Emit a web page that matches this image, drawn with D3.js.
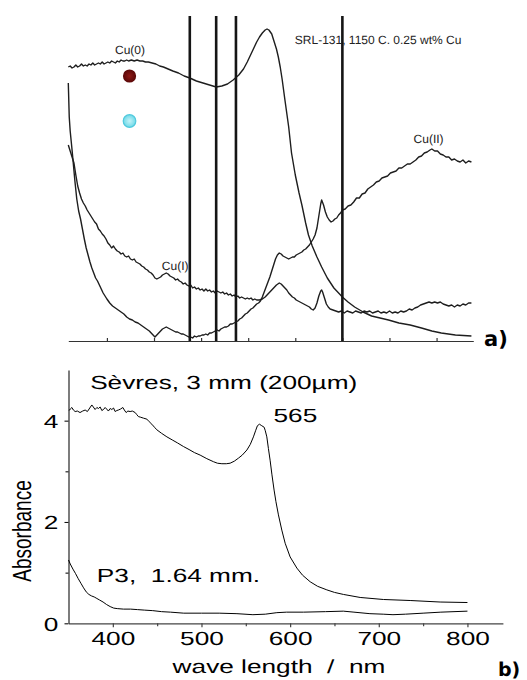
<!DOCTYPE html>
<html>
<head>
<meta charset="utf-8">
<script src="https://cdn.jsdelivr.net/npm/d3@7"></script>
<style>
  body { margin: 0; background: #fff; }
  svg { display: block; }
  text { text-rendering: geometricPrecision; }
</style>
</head>
<body>
<div id="chart"></div>
<script>
// ---- panel a) scanned spectra: wavelength (nm) vs absorbance (arb. units)
let cu0Spectrum = [[359,2.74],[361,2.75],[363,2.73],[365,2.74],[367,2.76],[369,2.74],[371,2.75],[373,2.77],[375,2.75],[377,2.76],
    [379,2.75],[381,2.77],[383,2.76],[385,2.78],[387,2.76],[389,2.77],[391,2.78],[393,2.77],[395,2.79],[397,2.77],[399,2.78],
    [401,2.79],[403,2.78],[405,2.80],[407,2.79],[409,2.78],[411,2.80],[413,2.79],[415,2.81],[417,2.80],[419,2.80],[421,2.81],
    [423,2.80],[426,2.81],[429,2.80],[432,2.81],[435,2.80],[438,2.80],[441,2.79],[444,2.79],[448,2.78],[452,2.77],[456,2.75],
    [460,2.74],[465,2.72],[470,2.70],[476,2.68],[482,2.65],[488,2.63],[495,2.60],[502,2.58],[509,2.56],[516,2.54],[522,2.55],
    [528,2.57],[534,2.61],[540,2.66],[545,2.72],[549,2.79],[554,2.89],[559,2.99],[562,3.04],[565,3.08],[568,3.11],[570,3.12],
    [572,3.11],[575,3.07],[577,3.01],[580,2.92],[582,2.84],[584,2.74],[586,2.62],[589,2.41],[593,2.14],[596,1.88],[600,1.66],
    [604,1.48],[607,1.36],[611,1.18],[614,1.06],[618,0.95],[623,0.84],[628,0.74],[634,0.63],[641,0.53],[650,0.44],[656,0.39],
    [663,0.34],[672,0.29],[681,0.25],[690,0.23],[699,0.21],[710,0.18],[722,0.16],[734,0.13],[745,0.10],[755,0.08],[770,0.06],
    [787,0.05]];

let cu1Spectrum = [[359,1.96],[361,1.90],[363,1.84],[365,1.78],[367,1.66],[369,1.55],[371,1.48],[373,1.42],[375,1.38],[377,1.35],
    [379,1.31],[381,1.28],[383,1.25],[385,1.22],[387,1.19],[389,1.17],[391,1.12],[393,1.10],[395,1.07],[397,1.05],[399,1.02],
    [401,0.98],[403,0.96],[405,0.93],[407,0.95],[409,0.92],[411,0.90],[413,0.89],[415,0.87],[417,0.88],[419,0.85],[421,0.84],
    [423,0.85],[425,0.82],[427,0.81],[429,0.82],[431,0.79],[433,0.78],[435,0.77],[437,0.75],[439,0.74],[441,0.72],[443,0.71],
    [445,0.69],[447,0.68],[449,0.66],[451,0.63],[453,0.62],[455,0.63],[457,0.64],[459,0.66],[461,0.67],[463,0.68],[465,0.67],
    [467,0.65],[469,0.64],[471,0.63],[473,0.61],[475,0.62],[477,0.60],[479,0.59],[481,0.57],[483,0.58],[485,0.56],[487,0.55],
    [489,0.56],[491,0.53],[493,0.54],[495,0.52],[497,0.53],[499,0.51],[501,0.52],[503,0.50],[505,0.52],[507,0.50],[509,0.51],
    [511,0.49],[513,0.50],[515,0.48],[517,0.50],[519,0.49],[521,0.48],[523,0.49],[525,0.47],[527,0.48],[529,0.46],[531,0.47],
    [533,0.45],[535,0.46],[537,0.44],[539,0.45],[541,0.43],[543,0.44],[545,0.43],[547,0.42],[549,0.43],[551,0.42],[553,0.43],
    [555,0.41],[557,0.42],[559,0.41],[562,0.41],[565,0.42],[568,0.44],[571,0.47],[574,0.50],[577,0.53],[580,0.56],[583,0.58],
    [585,0.57],[587,0.55],[589,0.53],[591,0.51],[593,0.48],[595,0.46],[597,0.44],[599,0.43],[601,0.41],[603,0.40],[605,0.39],
    [607,0.38],[609,0.37],[611,0.36],[613,0.35],[615,0.34],[617,0.32],[619,0.31],[621,0.33],[623,0.38],[625,0.45],[627,0.50],
    [628,0.51],[629,0.49],[631,0.43],[633,0.37],[635,0.34],[637,0.32],[640,0.31],[643,0.30],[646,0.29],[649,0.30],[652,0.28],
    [655,0.30],[658,0.29],[661,0.28],[664,0.30],[667,0.29],[670,0.28],[673,0.30],[676,0.29],[679,0.30],[682,0.28],[685,0.29],
    [688,0.30],[691,0.28],[694,0.29],[697,0.28],[700,0.30],[703,0.28],[706,0.29],[709,0.28],[712,0.30],[715,0.29],[718,0.30],
    [721,0.32],[724,0.31],[727,0.33],[730,0.34],[733,0.36],[736,0.37],[739,0.38],[742,0.39],[745,0.38],[748,0.39],[751,0.38],
    [754,0.39],[757,0.37],[760,0.36],[763,0.35],[766,0.36],[769,0.34],[772,0.36],[775,0.35],[778,0.37],[781,0.36],[784,0.38],
    [787,0.38]];

let cu2Spectrum = [[359,2.58],[360,2.24],[361,2.10],[363,1.91],[366,1.60],[368,1.42],[370,1.30],[372,1.22],[374,1.12],[376,1.02],
    [378,0.93],[380,0.86],[382,0.79],[384,0.73],[386,0.68],[388,0.63],[390,0.60],[392,0.56],[394,0.52],[396,0.48],[398,0.45],
    [400,0.42],[403,0.38],[406,0.35],[409,0.33],[412,0.31],[415,0.29],[418,0.27],[421,0.24],[424,0.22],[427,0.21],[430,0.19],
    [433,0.18],[436,0.16],[439,0.14],[442,0.12],[445,0.10],[448,0.07],[451,0.04],[453,0.06],[455,0.08],[457,0.10],[459,0.12],
    [461,0.13],[463,0.14],[465,0.13],[467,0.12],[469,0.11],[471,0.10],[473,0.09],[475,0.09],[477,0.08],[479,0.07],[481,0.07],
    [483,0.06],[485,0.05],[487,0.04],[489,0.04],[491,0.03],[493,0.05],[495,0.04],[497,0.05],[499,0.05],[501,0.06],[503,0.06],
    [505,0.07],[507,0.06],[509,0.08],[511,0.08],[513,0.09],[515,0.10],[517,0.11],[519,0.10],[521,0.12],[523,0.13],[525,0.14],
    [527,0.14],[529,0.15],[531,0.17],[533,0.17],[535,0.18],[537,0.19],[539,0.20],[541,0.22],[543,0.23],[545,0.25],[547,0.27],
    [549,0.28],[551,0.30],[553,0.32],[555,0.33],[557,0.35],[559,0.37],[561,0.38],[563,0.40],[565,0.44],[567,0.49],[569,0.54],
    [571,0.59],[573,0.64],[575,0.70],[577,0.76],[579,0.82],[581,0.86],[583,0.88],[585,0.87],[587,0.85],[589,0.84],[591,0.83],
    [593,0.82],[595,0.83],[597,0.84],[599,0.84],[601,0.86],[603,0.87],[605,0.88],[607,0.89],[609,0.91],[611,0.92],[613,0.94],
    [615,0.96],[617,0.99],[619,1.02],[621,1.06],[623,1.13],[625,1.25],[627,1.37],[628,1.41],[630,1.36],[632,1.29],[634,1.24],
    [636,1.21],[638,1.19],[640,1.20],[642,1.22],[644,1.23],[646,1.26],[648,1.28],[650,1.31],[653,1.32],[656,1.35],[659,1.36],
    [662,1.39],[665,1.43],[668,1.43],[671,1.47],[674,1.48],[677,1.52],[680,1.54],[683,1.56],[686,1.59],[689,1.60],[692,1.63],
    [695,1.64],[698,1.65],[701,1.68],[704,1.69],[707,1.70],[710,1.73],[713,1.73],[716,1.75],[719,1.77],[722,1.77],[725,1.79],
    [728,1.81],[731,1.84],[734,1.85],[737,1.88],[740,1.89],[743,1.91],[745,1.92],[748,1.90],[751,1.90],[754,1.87],[757,1.86],
    [760,1.84],[763,1.84],[766,1.81],[769,1.82],[772,1.80],[775,1.79],[778,1.81],[781,1.78],[784,1.80],[787,1.79]];

let laserLines = [488, 516, 537, 650];
let topTicks = [400, 450, 500, 550, 600, 650, 700, 750];

// ---- panel b) absorbance vs wave length
let sevresSpectrum = [[350.7,4.20],[352,4.23],[353.8,4.26],[355.5,4.21],[357.5,4.18],[360,4.19],[363,4.16],[366,4.19],
    [368.8,4.21],[371.3,4.18],[374,4.25],[376.3,4.31],[378,4.27],[380,4.22],[382,4.26],[383.8,4.24],[385.7,4.27],[387.6,4.20],
    [389.5,4.22],[391.3,4.26],[393,4.23],[395,4.19],[397,4.24],[398.9,4.22],[400.8,4.25],[402.6,4.18],[404.5,4.20],[406.3,4.21],
    [408.8,4.23],[411.3,4.26],[413,4.21],[415,4.16],[417,4.19],[419.5,4.18],[422,4.19],[425.2,4.16],[427,4.12],[428.9,4.08],
    [431,4.07],[434.5,4.05],[438.4,4.03],[441,3.98],[444,3.93],[447,3.87],[449.6,3.82],[455,3.75],[461,3.68],[467,3.62],
    [473,3.56],[479.6,3.49],[486,3.43],[492,3.37],[498.5,3.32],[506,3.25],[513.5,3.19],[518,3.16],[523,3.15],[528,3.15],
    [532.3,3.16],[537,3.20],[541.7,3.26],[546,3.32],[551.2,3.42],[555,3.53],[558.6,3.68],[561,3.80],[563.1,3.90],[565.4,3.93],
    [568,3.90],[570.7,3.87],[572,3.80],[573.7,3.68],[575.5,3.45],[577.4,3.22],[579.5,2.93],[581.9,2.63],[584,2.40],[586.8,2.14],
    [590.6,1.84],[594.4,1.58],[600,1.31],[607.6,1.09],[614,0.95],[622.6,0.82],[631,0.73],[641.4,0.66],[650,0.61],[660.1,0.57],
    [679,0.51],[705.2,0.47],[735.4,0.45],[769.2,0.42],[800,0.41]];

let p3Spectrum = [[350,1.25],[352,1.17],[355,1.07],[358,0.98],[361,0.88],[364,0.79],[367,0.70],[370,0.62],[373,0.57],
    [376,0.54],[379,0.52],[382,0.49],[385,0.46],[389,0.42],[393,0.37],[397,0.33],[401,0.30],[405,0.29],[412,0.28],[420,0.28],
    [428,0.27],[436,0.26],[445,0.25],[455,0.23],[465,0.22],[480,0.20],[500,0.20],[520,0.20],[540,0.19],[558,0.17],[572,0.18],
    [585,0.21],[596,0.22],[615,0.22],[640,0.23],[660,0.24],[672,0.22],[690,0.19],[705,0.18],[716,0.17],[730,0.18],[750,0.20],
    [770,0.22],[800,0.24]];

let bottomMajorX = [400, 500, 600, 700, 800];
let bottomMinorX = [450, 550, 650, 750];
let bottomMajorY = [0, 2, 4];
let bottomMinorY = [1, 3];

let width = 527, height = 680;
let sans = "'Liberation Sans', Arial, sans-serif";
let stretch = 1.38;   // the lower figure is printed horizontally stretched

let svg = d3.select('#chart').append('svg')
    .attr('width', width)
    .attr('height', height);

drawTopPanel();
drawBottomPanel();

function drawTopPanel() {
    let x = d3.scaleLinear().domain([359, 789]).range([68.3, 473.3]);
    let y = d3.scaleLinear().domain([0, 3.24]).range([341, 17]);
    let g = svg.append('g').attr('class', 'panel-a');

    let defs = svg.append('defs');
    let red = defs.append('radialGradient').attr('id', 'redDot');
    red.append('stop').attr('offset', '0%').attr('stop-color', '#8e1a16');
    red.append('stop').attr('offset', '100%').attr('stop-color', '#5a0707');
    let cyan = defs.append('radialGradient').attr('id', 'cyanDot');
    cyan.append('stop').attr('offset', '0%').attr('stop-color', '#c4f3f8');
    cyan.append('stop').attr('offset', '100%').attr('stop-color', '#6fd9e8');

    // baseline with small upward ticks
    let axis = d3.axisTop(x).tickValues(topTicks).tickSize(3).tickSizeOuter(0).tickFormat('');
    g.append('g')
        .attr('transform', 'translate(0,' + y(0) + ')')
        .call(axis)
        .call(a => a.selectAll('path, line').attr('stroke', '#333').attr('stroke-width', 1.2));

    let line = d3.line()
        .x(d => x(d[0]))
        .y(d => y(d[1]));

    g.selectAll('path.spectrum')
        .data([cu0Spectrum, cu1Spectrum, cu2Spectrum])
        .enter()
        .append('path')
            .attr('class', 'spectrum')
            .attr('d', line)
            .attr('fill', 'none')
            .attr('stroke', '#1e1e1e')
            .attr('stroke-width', 1.4)
            .attr('stroke-linejoin', 'round');

    g.selectAll('line.laser')
        .data(laserLines)
        .enter()
        .append('line')
            .attr('class', 'laser')
            .attr('x1', d => x(d)).attr('x2', d => x(d))
            .attr('y1', 16).attr('y2', y(0))
            .attr('stroke', '#151515')
            .attr('stroke-width', 2.6);

    g.append('circle')
        .attr('cx', x(424)).attr('cy', y(2.65)).attr('r', 6.6)
        .attr('fill', 'url(#redDot)');
    g.append('circle')
        .attr('cx', x(424)).attr('cy', y(2.20)).attr('r', 6.3)
        .attr('fill', 'url(#cyanDot)')
        .attr('stroke', '#4fc9dd')
        .attr('stroke-width', 1.2);

    let labels = [
        {text: 'Cu(0)', wl: 424.5, v: 2.87, anchor: 'middle'},
        {text: 'Cu(I)', wl: 472.5, v: 0.71, anchor: 'middle'},
        {text: 'Cu(II)', wl: 741.5, v: 1.98, anchor: 'middle'},
        {text: 'SRL-131, 1150 C. 0.25 wt% Cu', wl: 599.5, v: 2.97, anchor: 'start'}
    ];
    g.selectAll('text.label')
        .data(labels)
        .enter()
        .append('text')
            .attr('class', 'label')
            .attr('x', d => x(d.wl))
            .attr('y', d => y(d.v))
            .attr('text-anchor', d => d.anchor)
            .style('font-family', sans)
            .style('font-size', '12px')
            .style('fill', '#222')
            .text(d => d.text);

    svg.append('text')
        .attr('x', 484).attr('y', 346)
        .style('font-family', "'DejaVu Sans', sans-serif")
        .style('font-weight', 'bold')
        .style('font-size', '21px')
        .text('a)');
}

function drawBottomPanel() {
    let x = d3.scaleLinear().domain([350, 840]).range([68.5, 502.9]);
    let y = d3.scaleLinear().domain([0, 5]).range([623.3, 370]);
    let g = svg.append('g').attr('class', 'panel-b');

    // x axis: major + minor ticks
    let xAxisG = g.append('g').attr('transform', 'translate(0,' + y(0) + ')');
    xAxisG.call(d3.axisBottom(x).tickValues(bottomMinorX).tickSize(3).tickSizeOuter(0).tickFormat(''));
    xAxisG.append('g').call(d3.axisBottom(x).tickValues(bottomMajorX).tickSize(4).tickSizeOuter(0).tickFormat(d3.format('d')))
        .call(a => a.select('.domain').remove());
    xAxisG.selectAll('path, line').attr('stroke', '#444').attr('stroke-width', 1.2);
    xAxisG.selectAll('text')
        .attr('y', 8)
        .attr('dy', '0.71em')
        .attr('transform', 'scale(' + stretch + ',1)')
        .style('font-family', sans)
        .style('font-size', '19px')
        .style('fill', '#000');

    // y axis
    let yAxisG = g.append('g').attr('transform', 'translate(' + x(350) + ',0)');
    yAxisG.call(d3.axisLeft(y).tickValues(bottomMinorY).tickSize(3).tickSizeOuter(0).tickFormat(''));
    yAxisG.append('g').call(d3.axisLeft(y).tickValues(bottomMajorY).tickSize(4).tickSizeOuter(0).tickFormat(d3.format('d')))
        .call(a => a.select('.domain').remove());
    yAxisG.selectAll('path, line').attr('stroke', '#111').attr('stroke-width', 1.1);
    yAxisG.selectAll('text')
        .attr('x', -7.3)
        .attr('dy', '0.36em')
        .attr('transform', 'scale(' + stretch + ',1)')
        .style('font-family', sans)
        .style('font-size', '19px')
        .style('fill', '#000');

    let line = d3.line()
        .x(d => x(d[0]))
        .y(d => y(d[1]));

    g.selectAll('path.spectrum')
        .data([sevresSpectrum, p3Spectrum])
        .enter()
        .append('path')
            .attr('class', 'spectrum')
            .attr('d', line)
            .attr('fill', 'none')
            .attr('stroke', '#000')
            .attr('stroke-width', 1)
            .attr('stroke-linejoin', 'round');

    let notes = [
        {text: 'Sèvres, 3 mm (200µm)', wl: 374.4, v: 4.63},
        {text: '565', wl: 581.2, v: 3.98},
        {text: 'P3,  1.64 mm.', wl: 382, v: 0.82}
    ];
    g.selectAll('text.note')
        .data(notes)
        .enter()
        .append('text')
            .attr('class', 'note')
            .attr('transform', d => 'translate(' + x(d.wl) + ',' + y(d.v) + ') scale(' + stretch + ',1)')
            .style('font-family', sans)
            .style('font-size', '19px')
            .style('white-space', 'pre')
            .text(d => d.text);

    g.append('text')
        .attr('transform', 'translate(279,673) scale(' + stretch + ',1)')
        .attr('text-anchor', 'middle')
        .style('font-family', sans)
        .style('font-size', '19px')
        .style('white-space', 'pre')
        .text('wave length  /  nm');

    g.append('text')
        .attr('transform', 'translate(31,531) scale(' + stretch + ',1) rotate(-90)')
        .attr('text-anchor', 'middle')
        .style('font-family', sans)
        .style('font-size', '19px')
        .text('Absorbance');

    svg.append('text')
        .attr('x', 498).attr('y', 676)
        .style('font-family', "'DejaVu Sans', sans-serif")
        .style('font-weight', 'bold')
        .style('font-size', '19px')
        .text('b)');
}
</script>
</body>
</html>
